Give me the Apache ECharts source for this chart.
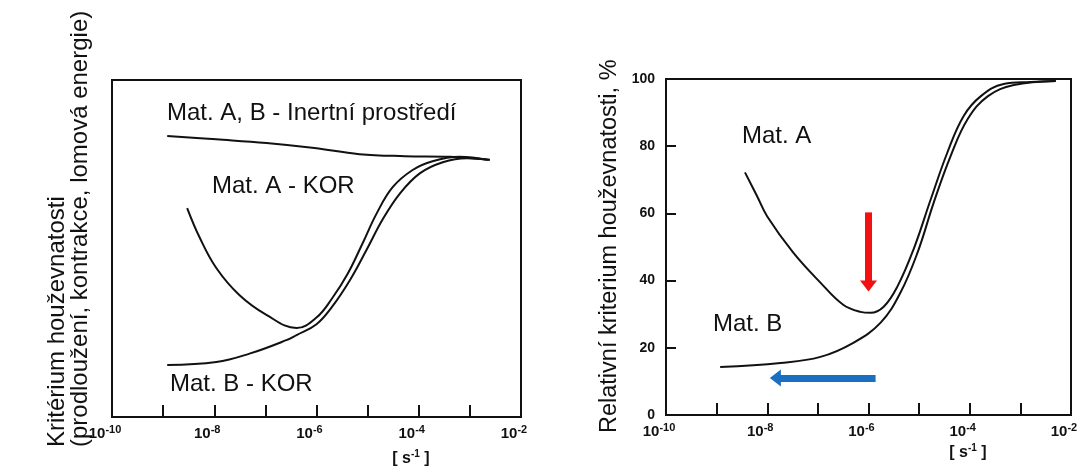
<!DOCTYPE html>
<html>
<head>
<meta charset="utf-8">
<script src="https://cdn.jsdelivr.net/npm/echarts@6/dist/echarts.min.js"></script>
<style>
  html, body { margin: 0; padding: 0; background: #fff; }
  #chart { width: 1083px; height: 472px; }
</style>
</head>
<body>
<div id="chart"></div>
<script>
// x values are log10 of strain rate [s^-1]
var xTicks = [-10, -9, -8, -7, -6, -5, -4, -3, -2];
var yTicksRight = [0, 20, 40, 60, 80, 100];

// levá část (bez stupnice na ose y)
var leftInert = [[-8.92, 83.4], [-7.96, 82.4], [-6.98, 81.3], [-6.04, 79.8], [-5.16, 78.0],
  [-4.27, 77.4], [-3.39, 77.2], [-2.61, 76.3]];
var leftAKor = [[-8.53, 62.0], [-8.29, 53.4], [-7.96, 44.2], [-7.51, 36.2], [-6.98, 30.3],
  [-6.39, 26.4], [-6.0, 29.5], [-5.69, 35.3], [-5.39, 42.5], [-5.10, 51.5],
  [-4.82, 60.5], [-4.51, 68.2], [-4.12, 73.3], [-3.73, 75.9], [-3.20, 77.2], [-2.65, 76.3]];
var leftBKor = [[-8.92, 15.4], [-7.96, 16.3], [-7.31, 18.8], [-6.59, 22.8], [-6.39, 24.3],
  [-6.0, 27.5], [-5.69, 32.8], [-5.35, 40.5], [-5.02, 49.6], [-4.71, 58.5], [-4.37, 66.3],
  [-3.98, 72.3], [-3.53, 75.6], [-3.06, 76.8], [-2.61, 76.3]];

// pravá část, %
var rightA = [[-8.44, 72.2], [-8.20, 65.1], [-8.0, 59.1], [-7.49, 48.4], [-6.95, 39.4],
  [-6.50, 32.8], [-6.16, 30.7], [-5.96, 30.4], [-5.70, 32.2], [-5.43, 38.2], [-5.11, 49.3],
  [-4.77, 64.2], [-4.44, 78.2], [-4.12, 89.0], [-3.78, 94.9], [-3.33, 98.5], [-2.79, 99.1],
  [-2.30, 99.4]];
var rightB = [[-8.93, 14.3], [-7.74, 15.5], [-6.95, 17.3], [-6.30, 21.5], [-5.76, 27.5],
  [-5.37, 36.4], [-5.03, 48.4], [-4.71, 63.3], [-4.38, 77.0], [-4.04, 88.1], [-3.64, 94.9],
  [-3.13, 98.2], [-2.30, 99.4]];

// šipky
var redArrow = [[-6.0, 60.3], [-6.0, 38.4]];
var blueArrow = [[-5.86, 11.0], [-7.84, 11.0]];

var FONT = "'Liberation Sans', Arial, sans-serif";
var myChart = echarts.init(document.getElementById('chart'));

function curve(data, idx) {
  return {
    type: 'line', data: data, xAxisIndex: idx, yAxisIndex: idx,
    smooth: 0.4, showSymbol: false, silent: true,
    lineStyle: { color: '#111', width: 2 }
  };
}

function arrow(pts, color) {
  return {
    type: 'line', data: [], xAxisIndex: 1, yAxisIndex: 1,
    markLine: {
      silent: true, symbol: ['none', 'triangle'], symbolSize: [17, 11],
      label: { show: false },
      lineStyle: { color: color, width: 7, type: 'solid' },
      data: [[{ coord: pts[0] }, { coord: pts[1] }]]
    }
  };
}

function xAxis(idx) {
  return {
    type: 'value', gridIndex: idx, min: -10, max: -2, interval: 1,
    axisLine: { show: true, onZero: false, lineStyle: { color: '#111', width: 2 } },
    axisTick: { show: true, inside: true, length: 12, lineStyle: { color: '#111', width: 2 } },
    splitLine: { show: false },
    axisLabel: {
      margin: 7, padding: [0, 14, 0, 0], fontFamily: FONT,
      formatter: function (v) { return v % 2 === 0 ? '{b|10}{s|' + v + '}' : ''; },
      rich: {
        b: { fontSize: 15, fontWeight: 'bold', color: '#111', lineHeight: 19, fontFamily: FONT },
        s: { fontSize: 11, fontWeight: 'bold', color: '#111', verticalAlign: 'top', fontFamily: FONT }
      }
    }
  };
}

var option = {
  backgroundColor: '#fff',
  animation: false,
  grid: [
    { left: 112, top: 80, width: 409, height: 337, show: true, borderColor: '#111', borderWidth: 2 },
    { left: 666, top: 79, width: 405, height: 336, show: true, borderColor: '#111', borderWidth: 2 }
  ],
  xAxis: [xAxis(0), xAxis(1)],
  yAxis: [
    {
      type: 'value', gridIndex: 0, min: 0, max: 100,
      axisLine: { show: true, lineStyle: { color: '#111', width: 2 } },
      axisTick: { show: false }, axisLabel: { show: false }, splitLine: { show: false }
    },
    {
      type: 'value', gridIndex: 1, min: 0, max: 100, interval: 20,
      axisLine: { show: true, lineStyle: { color: '#111', width: 2 } },
      axisTick: { show: true, inside: true, length: 10, lineStyle: { color: '#111', width: 2 } },
      splitLine: { show: false },
      axisLabel: {
        margin: 11, fontSize: 14, fontWeight: 'bold', color: '#111', fontFamily: FONT,
        formatter: function (v) { return yTicksRight.indexOf(v) >= 0 ? String(v) : ''; }
      }
    }
  ],
  series: [
    curve(leftInert, 0), curve(leftAKor, 0), curve(leftBKor, 0),
    curve(rightA, 1), curve(rightB, 1),
    arrow(redArrow, '#f21010'), arrow(blueArrow, '#1a6fc0')
  ],
  graphic: [
    { type: 'text', left: 167, top: 101, style: { text: 'Mat. A, B - Inertní prostředí', fontSize: 24, fontFamily: FONT, fill: '#111' } },
    { type: 'text', left: 212, top: 174, style: { text: 'Mat. A - KOR', fontSize: 24, fontFamily: FONT, fill: '#111' } },
    { type: 'text', left: 170, top: 372, style: { text: 'Mat. B - KOR', fontSize: 24, fontFamily: FONT, fill: '#111' } },
    { type: 'text', left: 742, top: 124, style: { text: 'Mat. A', fontSize: 24, fontFamily: FONT, fill: '#111' } },
    { type: 'text', left: 713, top: 312, style: { text: 'Mat. B', fontSize: 24, fontFamily: FONT, fill: '#111' } },
    {
      type: 'text', x: 69, y: 447, rotation: Math.PI / 2,
      style: {
        text: 'Kritérium houževnatosti\n(prodloužení, kontrakce, lomová energie)',
        fontSize: 24, lineHeight: 23, fontFamily: FONT, fill: '#111',
        align: 'left', verticalAlign: 'middle'
      }
    },
    {
      type: 'text', x: 610, y: 433, rotation: Math.PI / 2,
      style: {
        text: 'Relativní kriterium houževnatosti, %',
        fontSize: 23.5, fontFamily: FONT, fill: '#111', align: 'left', verticalAlign: 'middle'
      }
    },
    {
      type: 'text', x: 411, y: 459,
      style: {
        text: '{t|[ s}{s|-1}{t| ]}', align: 'center', verticalAlign: 'middle',
        rich: {
          t: { fontSize: 16, fontWeight: 'bold', fill: '#111', lineHeight: 20, fontFamily: FONT },
          s: { fontSize: 10, fontWeight: 'bold', fill: '#111', verticalAlign: 'top', fontFamily: FONT }
        }
      }
    },
    {
      type: 'text', x: 968, y: 453,
      style: {
        text: '{t|[ s}{s|-1}{t| ]}', align: 'center', verticalAlign: 'middle',
        rich: {
          t: { fontSize: 16, fontWeight: 'bold', fill: '#111', lineHeight: 20, fontFamily: FONT },
          s: { fontSize: 10, fontWeight: 'bold', fill: '#111', verticalAlign: 'top', fontFamily: FONT }
        }
      }
    }
  ]
};

myChart.setOption(option);
window.onresize = function () { myChart.resize(); };
</script>
</body>
</html>
